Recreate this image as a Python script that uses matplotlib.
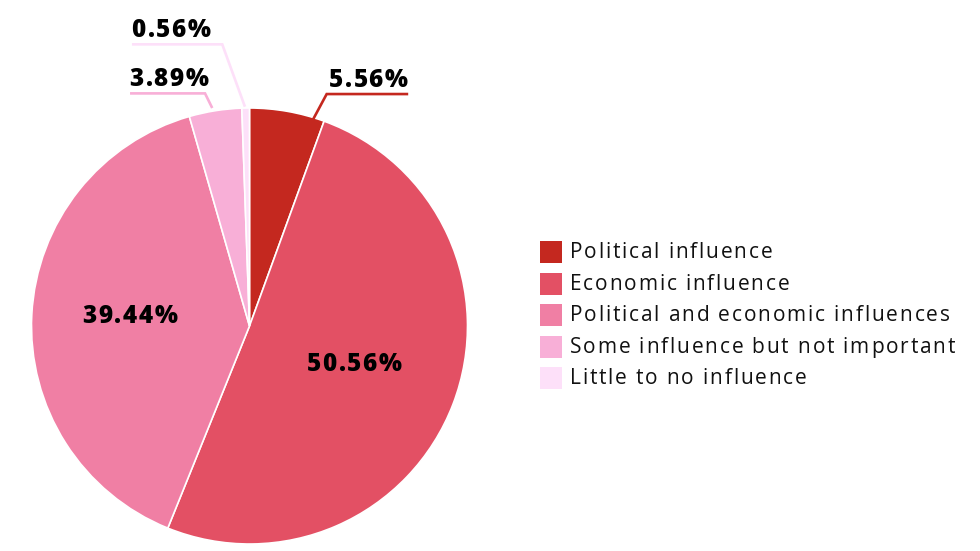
import math
import numpy as np
import matplotlib
matplotlib.use("Agg")
import matplotlib.pyplot as plt
from matplotlib.text import Text
from matplotlib.patches import Rectangle
from matplotlib.transforms import IdentityTransform
from matplotlib.font_manager import findfont, FontProperties

categories = ["Political influence", "Economic influence",
              "Political and economic influences",
              "Some influence but not important", "Little to no influence"]
values = [5.56, 50.56, 39.44, 3.89, 0.56]
colors = ["#c4281f", "#e35064", "#f07fa4", "#f8afd7", "#fde0f9"]

plt.rcParams['font.family'] = ['Open Sans', 'DejaVu Sans']
print(findfont(FontProperties(family='Open Sans', weight=800)))
print(findfont(FontProperties(family='Open Sans', weight=700)))
print(findfont(FontProperties(family='Open Sans', weight=500)))


class SpacedText(Text):
    """Text drawn with extra letter spacing (in pixels); anchored at baseline."""

    def __init__(self, x, y, text, spacing_px=0.0, **kw):
        kw.setdefault('va', 'baseline')
        super().__init__(x, y, text, **kw)
        self._spacing_px = spacing_px

    def _layout_chars(self, renderer):
        s = self.get_text()
        prop = self.get_fontproperties()
        xs, fracs = None, [0.0] * len(s)
        try:
            from matplotlib._text_helpers import layout
            from matplotlib.font_manager import get_font
            font = get_font(findfont(prop))
            font.clear()
            font.set_size(prop.get_size_in_points(), renderer.dpi)
            xs = [it.x for it in layout(s, font)]
            try:
                from matplotlib.backends.backend_agg import get_hinting_flag
                flags = get_hinting_flag()
                for k, ch in enumerate(s):
                    font.clear()
                    font.set_size(prop.get_size_in_points(), renderer.dpi)
                    font.set_text(ch, 0.0, flags=flags)
                    xmin = font.get_bitmap_offset()[0] / 64.0
                    fracs[k] = xmin - math.floor(xmin)
            except Exception:
                fracs = [0.0] * len(s)
        except Exception:
            xs = None
        if xs is None or len(xs) != len(s):
            w0 = renderer.get_text_width_height_descent('|', prop, ismath=False)[0]
            xs = [0.0] + [renderer.get_text_width_height_descent(
                s[:i] + '|', prop, ismath=False)[0] - w0 for i in range(1, len(s))]
        w_last = renderer.get_text_width_height_descent(s[-1], prop, ismath=False)[0]
        total = xs[-1] + w_last + (len(s) - 1) * self._spacing_px
        xs = [x + i * self._spacing_px for i, x in enumerate(xs)]
        return xs, fracs, total

    def draw(self, renderer):
        if not self.get_visible() or not self.get_text():
            return
        s = self.get_text()
        xs, fracs, total = self._layout_chars(renderer)
        x, y = self.get_transform().transform(self.get_unitless_position())
        ha = self.get_horizontalalignment()
        x0 = x - {'left': 0.0, 'center': total / 2, 'right': total}[ha]
        for ch, dx, fr in zip(s, xs, fracs):
            if ch == ' ':
                continue
            t = Text(x0 + dx - fr, y, ch, fontproperties=self.get_fontproperties(),
                     color=self.get_color(), ha='left', va='baseline',
                     transform=IdentityTransform())
            t.set_figure(self.figure)
            t.draw(renderer)


W, H = 980, 551
fig = plt.figure(figsize=(W / 100, H / 100), dpi=100)
ax = fig.add_axes([0, 0, 1, 1])

cx, cy, R = 249.5, 326.0, 218.0  # pixels (from top)
wedges, _ = ax.pie(values, colors=colors, startangle=90, counterclock=False,
                   radius=1.0, wedgeprops=dict(edgecolor="white", linewidth=1.2))
ax.set_xlim(-cx / R, (W - cx) / R)
ax.set_ylim(-(H - cy) / R, cy / R)
ax.set_aspect('auto')
ax.axis('off')

labels = [f"{v:.2f}%" for v in values]
LBL_FS = 17.5
LBL_SP = 1.6
LBL_W = 800

# inside labels: (index, radius, angle offset deg)
for i, r, da in [(1, 0.51, 2.0), (2, 0.55, -2.5)]:
    w = wedges[i]
    ang = np.deg2rad((w.theta1 + w.theta2) / 2 + da)
    t = SpacedText(r * np.cos(ang), r * np.sin(ang) - 0.038, labels[i],
                   spacing_px=LBL_SP, ha='center', fontsize=LBL_FS,
                   fontweight=LBL_W, color='black', transform=ax.transData)
    ax.add_artist(t)

# outside labels with leader lines: start, elbow, end (data units of the pie)
outside = [
    (0, (0.286, 0.937), (0.354, 1.064), (0.728, 1.064), 'right'),
    (3, (-0.171, 1.0), (-0.204, 1.067), (-0.548, 1.067), 'left'),
    (4, (-0.021, 1.006), (-0.125, 1.292), (-0.539, 1.292), 'left'),
]
for i, s, e, f, ha in outside:
    ax.plot([s[0], e[0], f[0]], [s[1], e[1], f[1]], color=colors[i], lw=1.9,
            solid_capstyle='butt', solid_joinstyle='miter', clip_on=False)
    t = SpacedText(f[0], f[1] + 0.034, labels[i], spacing_px=LBL_SP, ha=ha,
                   fontsize=LBL_FS, fontweight=LBL_W, color='black',
                   transform=ax.transData)
    ax.add_artist(t)

# legend (square markers + letter-spaced labels)
sq_x, sq_size, row0, row_step = 540, 22, 252.0, 31.6
for k, (lab, c) in enumerate(zip(categories, colors)):
    yc = row0 + k * row_step
    fig.add_artist(Rectangle((sq_x / W, 1 - (yc + sq_size / 2) / H),
                             sq_size / W, sq_size / H, transform=fig.transFigure,
                             facecolor=c, edgecolor='none'))
    fig.add_artist(SpacedText(570 / W, 1 - (yc + 6) / H, lab, spacing_px=1.8,
                              ha='left', fontsize=15, color='#111111',
                              fontweight=500, transform=fig.transFigure))

fig.savefig("out.png", dpi=100, facecolor='white')
